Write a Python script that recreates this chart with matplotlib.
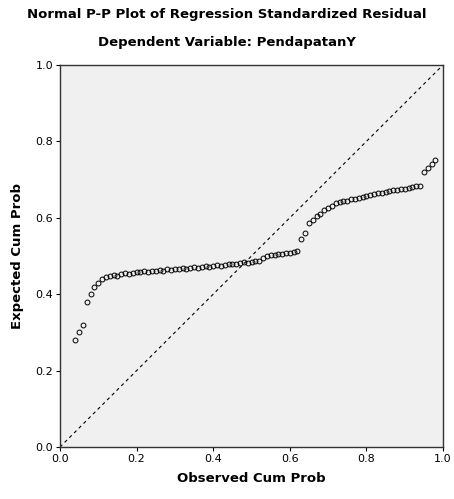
import matplotlib.pyplot as plt

# observed cumulative probability (x) and expected cumulative probability (y)
obs_cum = [0.04, 0.05, 0.06, 0.07, 0.08, 0.09, 0.10,
           0.11, 0.12, 0.13, 0.14, 0.15, 0.16, 0.17, 0.18, 0.19, 0.20,
           0.21, 0.22, 0.23, 0.24, 0.25, 0.26, 0.27, 0.28, 0.29, 0.30,
           0.31, 0.32, 0.33, 0.34, 0.35, 0.36, 0.37, 0.38, 0.39, 0.40,
           0.41, 0.42, 0.43, 0.44, 0.45, 0.46, 0.47, 0.48, 0.49, 0.50,
           0.51, 0.52,
           0.53, 0.54, 0.55, 0.56, 0.57, 0.58, 0.59, 0.60, 0.61, 0.62,
           0.63, 0.64,
           0.65, 0.66, 0.67, 0.68, 0.69, 0.70, 0.71, 0.72,
           0.73, 0.74, 0.75, 0.76, 0.77, 0.78, 0.79, 0.80, 0.81, 0.82,
           0.83, 0.84, 0.85,
           0.86, 0.87, 0.88, 0.89, 0.90, 0.91, 0.92, 0.93, 0.94,
           0.95, 0.96, 0.97, 0.98]
exp_cum = [0.28, 0.30, 0.32, 0.38, 0.40, 0.42, 0.43,
           0.440, 0.445, 0.447, 0.450, 0.448, 0.452, 0.455, 0.453, 0.456, 0.458,
           0.457, 0.460, 0.459, 0.462, 0.461, 0.463, 0.462, 0.465, 0.464, 0.466,
           0.465, 0.468, 0.467, 0.469, 0.470, 0.468, 0.471, 0.473, 0.472, 0.474,
           0.476, 0.475, 0.477, 0.478, 0.480, 0.479, 0.481, 0.483, 0.482, 0.484,
           0.486, 0.488,
           0.495, 0.500, 0.502, 0.503, 0.504, 0.505, 0.507, 0.508, 0.510, 0.512,
           0.545, 0.560,
           0.585, 0.595, 0.605, 0.610, 0.620, 0.625, 0.632, 0.638,
           0.640, 0.643, 0.645, 0.648, 0.650, 0.652, 0.655, 0.657, 0.660, 0.662,
           0.664, 0.666, 0.668,
           0.670, 0.672, 0.673, 0.675, 0.676, 0.678, 0.680, 0.682, 0.684,
           0.720, 0.730, 0.740, 0.750]
ticks = [0.0, 0.2, 0.4, 0.6, 0.8, 1.0]

fig = plt.figure(figsize=(4.54, 4.99), dpi=100)
ax = fig.add_axes([0.132, 0.104, 0.844, 0.766])
ax.set_facecolor("#f0f0f0")

ax.plot([0, 1], [0, 1], color="black", lw=0.8, ls=(0, (3, 3)))
ax.plot(obs_cum, exp_cum, "o", mfc="none", mec="black", ms=3.5, mew=0.7)

ax.set_xlim(0, 1)
ax.set_ylim(0, 1)
ax.set_xticks(ticks)
ax.set_yticks(ticks)
ax.set_xticklabels([f"{t:.1f}" for t in ticks], fontsize=8)
ax.set_yticklabels([f"{t:.1f}" for t in ticks], fontsize=8)
ax.tick_params(direction="out", length=3, width=0.8, pad=2)
for s in ax.spines.values():
    s.set_color("#333333")
    s.set_linewidth(1.0)

ax.set_xlabel("Observed Cum Prob", fontsize=9.5, fontweight="bold", labelpad=6)
ax.set_ylabel("Expected Cum Prob", fontsize=9.5, fontweight="bold", labelpad=8)
fig.text(0.5, 0.97, "Normal P-P Plot of Regression Standardized Residual",
         ha="center", va="center", fontsize=9.5, fontweight="bold")
fig.text(0.5, 0.914, "Dependent Variable: PendapatanY",
         ha="center", va="center", fontsize=9.5, fontweight="bold")

fig.savefig("out.png", dpi=100)
